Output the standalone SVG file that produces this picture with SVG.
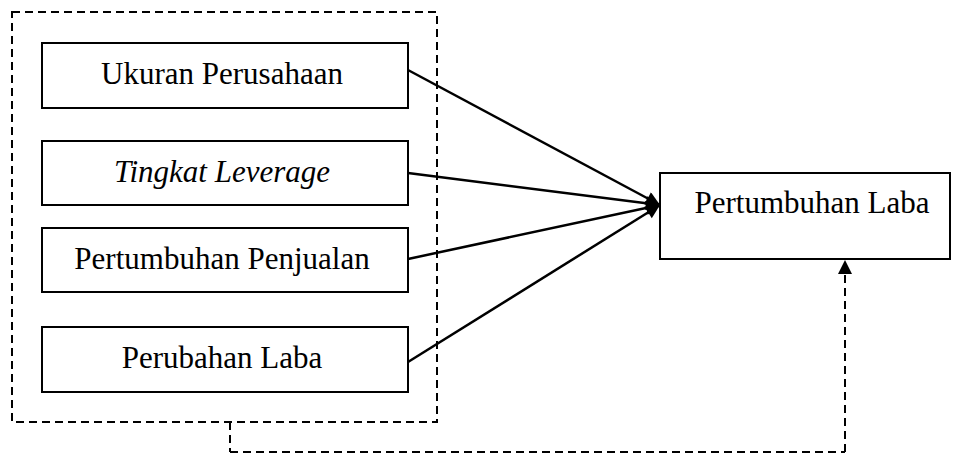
<svg xmlns="http://www.w3.org/2000/svg" width="953" height="454" viewBox="0 0 953 454">
<style>
.box{fill:#fff;stroke:#000;stroke-width:2}
.lbl{font-family:"Liberation Serif","Times New Roman",serif;font-size:31px;fill:#000;text-anchor:middle}
.dash{fill:none;stroke:#000;stroke-width:2;stroke-dasharray:8 5}
.con{fill:none;stroke:#000;stroke-width:2.5}
</style>
<defs>
<marker id="ah2" viewBox="0 0 10 10" refX="10" refY="5" markerWidth="18" markerHeight="14" orient="auto" markerUnits="userSpaceOnUse">
<path d="M0,0 L10,5 L0,10 z" fill="#000"/>
</marker>
<marker id="ah3" viewBox="0 0 10 10" refX="10" refY="5" markerWidth="16" markerHeight="14" orient="auto" markerUnits="userSpaceOnUse">
<path d="M0,0 L10,5 L0,10 z" fill="#000"/>
</marker>
</defs>
<g id="group-box">
<rect class="dash" x="12" y="12" width="425" height="410"/>
</g>
<g id="connectors">
<line class="con" x1="408" y1="70" x2="660" y2="205" marker-end="url(#ah2)"/>
<line class="con" x1="408" y1="173" x2="660" y2="205" marker-end="url(#ah2)"/>
<line class="con" x1="408" y1="259" x2="660" y2="205" marker-end="url(#ah2)"/>
<line class="con" x1="408" y1="362" x2="660" y2="205" marker-end="url(#ah2)"/>
<path class="dash" d="M230,422 V452"/>
<path class="dash" d="M230,452 H845" stroke="#999" stroke-width="1.5"/>
<path class="dash" d="M845,452 V260" stroke-width="2.5" marker-end="url(#ah3)"/>
</g>
<g id="n1">
<rect class="box" x="42" y="43" width="366" height="65"/>
<text class="lbl" x="222" y="84">Ukuran Perusahaan</text>
</g>
<g id="n2">
<rect class="box" x="42" y="141" width="366" height="64"/>
<text class="lbl" x="222" y="182" font-style="italic">Tingkat Leverage</text>
</g>
<g id="n3">
<rect class="box" x="42" y="228" width="366" height="64"/>
<text class="lbl" x="222" y="269">Pertumbuhan Penjualan</text>
</g>
<g id="n4">
<rect class="box" x="42" y="327" width="366" height="65"/>
<text class="lbl" x="222" y="368">Perubahan Laba</text>
</g>
<g id="n5">
<rect class="box" x="660" y="173" width="290" height="86"/>
<text class="lbl" x="812" y="213">Pertumbuhan Laba</text>
</g>
</svg>
